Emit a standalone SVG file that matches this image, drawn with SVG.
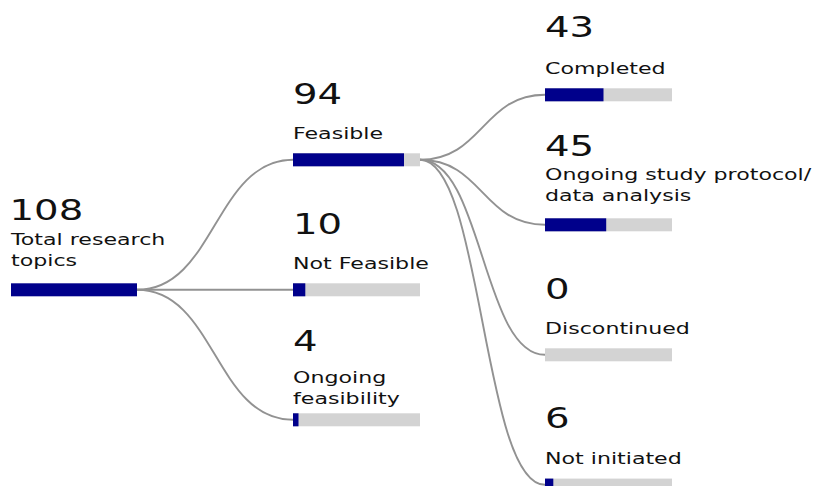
<svg xmlns="http://www.w3.org/2000/svg" width="815" height="486" viewBox="0 0 815 486">
<style>
  .num { font-family: "DejaVu Sans", sans-serif; font-size: 29px; fill: #111; }
  .lbl { font-family: "DejaVu Sans", sans-serif; font-size: 16.6px; fill: #111; }
  .track { fill: #d3d3d3; }
  .fill { fill: #00008b; }
  .link { fill: none; stroke: #929292; stroke-width: 1.9; }
</style>
<rect width="815" height="486" fill="#ffffff"/>
<g id="connectors">
  <path class="link" d="M137,289.8 C215,289.8 215,159.8 293,159.8"/>
  <path class="link" d="M137,289.8 C215,289.8 215,289.8 293,289.8"/>
  <path class="link" d="M137,289.8 C215,289.8 215,419.8 293,419.8"/>
  <path class="link" d="M420,159.8 C482.5,159.8 482.5,94.8 545,94.8"/>
  <path class="link" d="M420,159.8 C482.5,159.8 482.5,224.8 545,224.8"/>
  <path class="link" d="M420,159.8 C482.5,159.8 482.5,354.8 545,354.8"/>
  <path class="link" d="M420,159.8 C482.5,159.8 482.5,484.8 545,484.8"/>
</g>
<g id="node-total">
  <rect class="fill" x="11" y="283.3" width="126" height="13"/>
  <text class="num" transform="translate(9.5,219.5) scale(1.333,1)">108</text>
  <text class="lbl" transform="translate(11,245) scale(1.333,1)">Total research</text>
  <text class="lbl" transform="translate(11,265.5) scale(1.333,1)">topics</text>
</g>
<g id="node-feasible">
  <rect class="track" x="293" y="153.3" width="127" height="13"/>
  <rect class="fill" x="293" y="153.3" width="111" height="13"/>
  <text class="num" transform="translate(293,104.3) scale(1.333,1)">94</text>
  <text class="lbl" transform="translate(293,138.7) scale(1.333,1)">Feasible</text>
</g>
<g id="node-not-feasible">
  <rect class="track" x="293" y="283.3" width="127" height="13"/>
  <rect class="fill" x="293" y="283.3" width="12.3" height="13"/>
  <text class="num" transform="translate(293,234.3) scale(1.333,1)">10</text>
  <text class="lbl" transform="translate(293,269.3) scale(1.333,1)">Not Feasible</text>
</g>
<g id="node-ongoing-feasibility">
  <rect class="track" x="293" y="413.3" width="127" height="13"/>
  <rect class="fill" x="293" y="413.3" width="5.5" height="13"/>
  <text class="num" transform="translate(293,351) scale(1.333,1)">4</text>
  <text class="lbl" transform="translate(293,383) scale(1.333,1)">Ongoing</text>
  <text class="lbl" transform="translate(293,404) scale(1.333,1)">feasibility</text>
</g>
<g id="node-completed">
  <rect class="track" x="545" y="88.3" width="127" height="13"/>
  <rect class="fill" x="545" y="88.3" width="58.5" height="13"/>
  <text class="num" transform="translate(545,36.7) scale(1.333,1)">43</text>
  <text class="lbl" transform="translate(545,74) scale(1.333,1)">Completed</text>
</g>
<g id="node-ongoing-study">
  <rect class="track" x="545" y="218.3" width="127" height="13"/>
  <rect class="fill" x="545" y="218.3" width="61.2" height="13"/>
  <text class="num" transform="translate(545,156) scale(1.333,1)">45</text>
  <text class="lbl" transform="translate(545,179.5) scale(1.333,1)">Ongoing study protocol/</text>
  <text class="lbl" transform="translate(545,200.5) scale(1.333,1)">data analysis</text>
</g>
<g id="node-discontinued">
  <rect class="track" x="545" y="348.3" width="127" height="13"/>
  <text class="num" transform="translate(545,299) scale(1.333,1)">0</text>
  <text class="lbl" transform="translate(545,334) scale(1.333,1)">Discontinued</text>
</g>
<g id="node-not-initiated">
  <rect class="track" x="545" y="478.6" width="127" height="13"/>
  <rect class="fill" x="545" y="478.6" width="8.3" height="13"/>
  <text class="num" transform="translate(545,428) scale(1.333,1)">6</text>
  <text class="lbl" transform="translate(545,464) scale(1.333,1)">Not initiated</text>
</g>
</svg>
